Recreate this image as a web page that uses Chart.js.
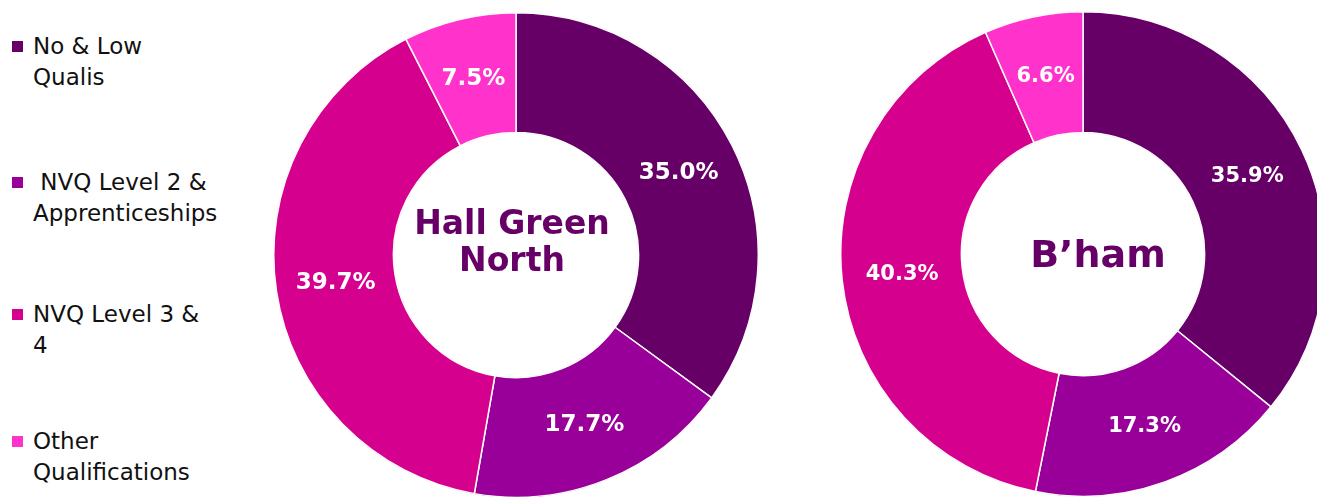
<!DOCTYPE html>
<html>
<head>
<meta charset="utf-8">
<script src="https://cdn.jsdelivr.net/npm/chart.js@4"></script>
<style>
  html, body { margin: 0; padding: 0; background: #fff; overflow: hidden; }
  body { width: 1317px; height: 497px; position: relative; font-family: "DejaVu Sans", Verdana, sans-serif; }
  #legend { position: absolute; left: 12px; top: 0; }
  .item { position: absolute; left: 0; width: 220px; font-size: 23px; line-height: 31px; color: #111; white-space: pre; }
  .item i { position: absolute; left: 0; top: 10px; width: 11px; height: 11px; }
  .item span { display: block; margin-left: 21px; }
  canvas { position: absolute; }
</style>
</head>
<body>
<div id="legend"></div>
<canvas id="hallGreenChart" width="486" height="486" style="left:273px; top:12px;"></canvas>
<canvas id="bhamChart" width="486" height="486" style="left:840px; top:11px;"></canvas>
<script>
const categories = ['No & Low Qualis', ' NVQ Level 2 & Apprenticeships', 'NVQ Level 3 & 4', 'Other Qualifications'];
const legendLines = [['No & Low', 'Qualis'], [' NVQ Level 2 &', 'Apprenticeships'], ['NVQ Level 3 &', '4'], ['Other', 'Qualifications']];
const hallGreenValues = [35.0, 17.7, 39.7, 7.5];
const bhamValues = [35.9, 17.3, 40.3, 6.6];
const colors = ['#660066', '#990099', '#D6008F', '#FF33CC'];

// legend
const legendTops = [31, 167, 299, 426];
const legend = document.getElementById('legend');
legendLines.forEach((lines, i) => {
    const div = document.createElement('div');
    div.className = 'item';
    div.style.top = legendTops[i] + 'px';
    div.innerHTML = '<i style="background:' + colors[i] + '"></i><span></span>';
    div.querySelector('span').textContent = lines.join('\n');
    legend.appendChild(div);
});

const ringPlugin = {
    id: 'ringExtras',
    beforeDatasetsDraw(chart) {
        const arc = chart.getDatasetMeta(0).data[0];
        const ctx = chart.ctx;
        ctx.save();
        ctx.strokeStyle = 'rgba(0,0,0,0.18)';
        ctx.lineWidth = 2;
        ctx.beginPath();
        ctx.arc(arc.x, arc.y, arc.outerRadius - 0.5, 0, Math.PI * 2);
        ctx.stroke();
        ctx.beginPath();
        ctx.arc(arc.x, arc.y, arc.innerRadius + 0.5, 0, Math.PI * 2);
        ctx.stroke();
        ctx.restore();
    },
    afterDatasetsDraw(chart, args, opts) {
        const ctx = chart.ctx;
        const meta = chart.getDatasetMeta(0);
        const values = chart.data.datasets[0].data;
        ctx.save();
        ctx.fillStyle = '#fff';
        ctx.textAlign = 'center';
        ctx.textBaseline = 'middle';
        ctx.font = 'bold ' + opts.labelSize + 'px "DejaVu Sans", Verdana, sans-serif';
        meta.data.forEach((arc, i) => {
            const p = arc.tooltipPosition();
            ctx.fillText(values[i].toFixed(1) + '%', p.x, p.y + 1);
        });
        // centre title
        const a = meta.data[0];
        ctx.fillStyle = '#660066';
        ctx.font = 'bold ' + opts.titleSize + 'px "DejaVu Sans", Verdana, sans-serif';
        const n = opts.title.length;
        opts.title.forEach((line, i) => {
            const y = a.y + opts.dy + (i - (n - 1) / 2) * opts.lineHeight;
            ctx.fillText(line, a.x + opts.dx, y);
        });
        ctx.restore();
    }
};

function makeChart(id, values, cutout, labelSize, title) {
    const ctx = document.getElementById(id).getContext('2d');
    return new Chart(ctx, {
        type: 'doughnut',
        data: {
            labels: categories,
            datasets: [{
                data: values,
                backgroundColor: colors,
                borderColor: '#ffffff',
                borderWidth: 1.5
            }]
        },
        options: {
            responsive: false,
            animation: false,
            cutout: cutout,
            layout: { padding: 0 },
            plugins: {
                legend: { display: false },
                tooltip: { enabled: false },
                ringExtras: Object.assign({ labelSize: labelSize }, title)
            }
        },
        plugins: [ringPlugin]
    });
}

makeChart('hallGreenChart', hallGreenValues, '50.6%', 23,
    { title: ['Hall Green', 'North'], titleSize: 33, lineHeight: 37, dx: -4, dy: -11 });
makeChart('bhamChart', bhamValues, '50.2%', 21,
    { title: ['B\u2019ham'], titleSize: 38, lineHeight: 40, dx: 15, dy: 3 });
</script>
</body>
</html>
